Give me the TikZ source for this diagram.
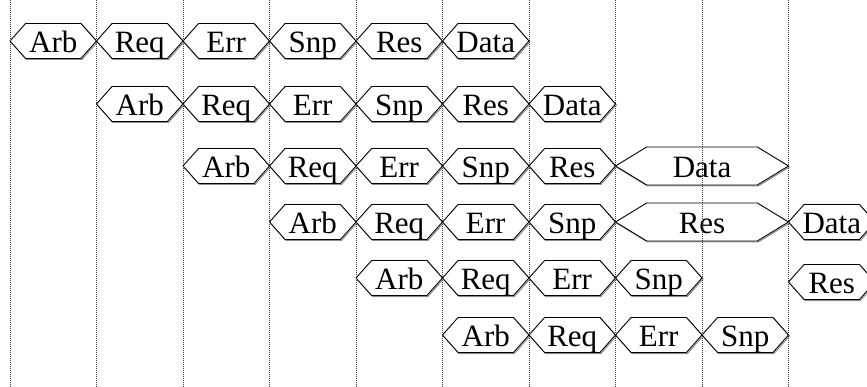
\documentclass[tikz,border=0pt]{standalone}
\usepackage{fontspec}
\setmainfont{Liberation Serif}
\usetikzlibrary{calc}

\tikzset{
  slot/.style={draw=black, line width=0.9pt, fill=white, line join=miter},
  slotshadow/.style={draw=black!45, line width=1pt},
  phase/.style={font=\fontsize{31}{31}\selectfont, inner sep=0pt, anchor=base},
  cycleline/.style={line width=0.8pt, black!75, dash pattern=on 1pt off 1pt},
}

% \cell[half height]{name}{first cycle}{last cycle}{row y}{label}
\newcommand{\cell}[6][17.5]{%
  \pgfmathsetmacro{\cellL}{10+86.5*#3}%
  \pgfmathsetmacro{\cellR}{10+86.5*#4}%
  \pgfmathsetmacro{\cellS}{0.18*(\cellR-\cellL)}%
  \draw[slotshadow, xshift=1pt, yshift=-1pt] (\cellL,#5) -- (\cellL+\cellS,#5-#1) -- (\cellR-\cellS,#5-#1)
    -- (\cellR,#5) -- (\cellR-\cellS,#5+#1) -- (\cellL+\cellS,#5+#1) -- cycle;
  \draw[slot] (\cellL,#5) -- (\cellL+\cellS,#5-#1) -- (\cellR-\cellS,#5-#1)
    -- (\cellR,#5) -- (\cellR-\cellS,#5+#1) -- (\cellL+\cellS,#5+#1) -- cycle;
  \node[phase] (#2) at ({(\cellL+\cellR)/2},#5+11.5) {#6};
}

\begin{document}
\begin{tikzpicture}[x=1pt, y=-1pt]
  \useasboundingbox (0,0) rectangle (867,387);

  % Transaction 1
  \cell{arb1}{0}{1}{41}{Arb}
  \cell{req1}{1}{2}{41}{Req}
  \cell{err1}{2}{3}{41}{Err}
  \cell{snp1}{3}{4}{41}{Snp}
  \cell{res1}{4}{5}{41}{Res}
  \cell{data1}{5}{6}{41}{Data}
  % Transaction 2
  \cell{arb2}{1}{2}{104}{Arb}
  \cell{req2}{2}{3}{104}{Req}
  \cell{err2}{3}{4}{104}{Err}
  \cell{snp2}{4}{5}{104}{Snp}
  \cell{res2}{5}{6}{104}{Res}
  \cell{data2}{6}{7}{104}{Data}
  % Transaction 3 (data stalls two cycles)
  \cell{arb3}{2}{3}{166}{Arb}
  \cell{req3}{3}{4}{166}{Req}
  \cell{err3}{4}{5}{166}{Err}
  \cell{snp3}{5}{6}{166}{Snp}
  \cell{res3}{6}{7}{166}{Res}
  \cell[19]{data3}{7}{9}{166}{Data}
  % Transaction 4
  \cell{arb4}{3}{4}{222}{Arb}
  \cell{req4}{4}{5}{222}{Req}
  \cell{err4}{5}{6}{222}{Err}
  \cell{snp4}{6}{7}{222}{Snp}
  \cell[19]{res4}{7}{9}{222}{Res}
  \cell{data4}{9}{10}{222}{Data}
  % Transaction 5
  \cell{arb5}{4}{5}{278}{Arb}
  \cell{req5}{5}{6}{278}{Req}
  \cell{err5}{6}{7}{278}{Err}
  \cell{snp5}{7}{8}{278}{Snp}
  \cell{res5}{9}{10}{282}{Res}
  % Transaction 6
  \cell{arb6}{5}{6}{335}{Arb}
  \cell{req6}{6}{7}{335}{Req}
  \cell{err6}{7}{8}{335}{Err}
  \cell{snp6}{8}{9}{335}{Snp}

  % Cycle boundaries
  \foreach \c in {0,...,9}
    \draw[cycleline] ({10+86.5*\c},0) -- ({10+86.5*\c},387);
\end{tikzpicture}
\end{document}
